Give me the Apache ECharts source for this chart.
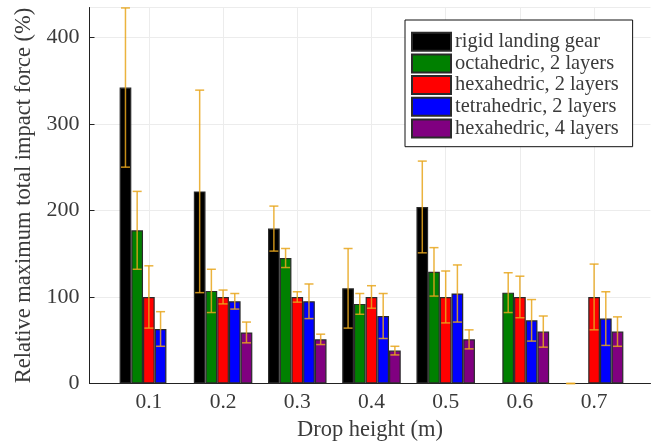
<!DOCTYPE html>
<html>
<head>
<meta charset="utf-8">
<script src="https://cdn.jsdelivr.net/npm/echarts@6/dist/echarts.min.js"></script>
<style>html,body{margin:0;padding:0;background:#fff}#c{width:655px;height:445px}</style>
</head>
<body>
<div id="c"></div>
<script>
// Drop heights (m) and their tick labels
const heights = [0.1, 0.2, 0.3, 0.4, 0.5, 0.6, 0.7];
const heightLabels = ['0.1', '0.2', '0.3', '0.4', '0.5', '0.6', '0.7'];
const yTicks = [0, 100, 200, 300, 400];

const seriesNames = ['rigid landing gear', 'octahedric, 2 layers', 'hexahedric, 2 layers', 'tetrahedric, 2 layers', 'hexahedric, 4 layers'];
const seriesColors = ['#000000', '#008000', '#ff0000', '#0000ff', '#800080'];

// mean values (%), null = not measured
const rigid       = [342, 222, 179, 110, 204, null, 0];
const octa2       = [177, 107, 145, 92, 129, 105, null];
const hexa2       = [100, 100, 100, 100, 100, 100, 100];
const tetra2      = [63, 95, 95, 78, 104, 73, 75];
const hexa4       = [null, 59, 51, 38, 51, 60, 60];

// error (half-range, %)
const rigidErr    = [92, 117, 26, 46, 53, null, 0];
const octa2Err    = [45, 25, 11, 12, 28, 23, null];
const hexa2Err    = [36, 8, 6, 13, 30, 24, 38];
const tetra2Err   = [20, 9, 20, 26, 33, 24, 31];
const hexa4Err    = [null, 12, 6, 5, 11, 18, 17];

const values = [rigid, octa2, hexa2, tetra2, hexa4];
const errors = [rigidErr, octa2Err, hexa2Err, tetra2Err, hexa4Err];

const BAR_W = 11.7;
const FONT = 'Liberation Serif';
const TXT = '#3a3a3a';

const series = [];
values.forEach((vals, i) => {
  series.push({
    name: seriesNames[i],
    type: 'bar',
    barWidth: BAR_W,
    barGap: '0%',
    itemStyle: { color: seriesColors[i], borderColor: '#2a2a2a', borderWidth: 1.2 },
    data: heights.map((h, k) => vals[k] == null ? [h, null] : [h, vals[k]]),
    z: 2
  });
});
values.forEach((vals, i) => {
  const data = [];
  heights.forEach((h, k) => {
    if (vals[k] != null && errors[i][k] != null) data.push([h, vals[k], errors[i][k]]);
  });
  const offset = (i - 2) * BAR_W;
  series.push({
    type: 'custom',
    name: seriesNames[i] + ' err',
    silent: true,
    z: 5,
    data: data,
    renderItem: function (params, api) {
      const x = api.value(0), y = api.value(1), e = api.value(2);
      const pTop = api.coord([x, y + e]);
      const pBot = api.coord([x, y - e]);
      const cx = pTop[0] + offset;
      const cap = 4.5;
      const style = { stroke: 'rgba(232,166,28,0.85)', lineWidth: 1.5 };
      return {
        type: 'group',
        children: [
          { type: 'line', shape: { x1: cx, y1: pTop[1], x2: cx, y2: pBot[1] }, style: style },
          { type: 'line', shape: { x1: cx - cap, y1: pTop[1], x2: cx + cap, y2: pTop[1] }, style: style },
          { type: 'line', shape: { x1: cx - cap, y1: pBot[1], x2: cx + cap, y2: pBot[1] }, style: style }
        ]
      };
    }
  });
});

const chart = echarts.init(document.getElementById('c'), null, { renderer: 'canvas' });
chart.setOption({
  animation: false,
  backgroundColor: '#fff',
  textStyle: { fontFamily: FONT },
  grid: { left: 89.5, right: 4.5, top: 7.5, bottom: 61.5, containLabel: false, outerBoundsMode: 'none' },
  legend: {
    data: seriesNames,
    orient: 'vertical',
    left: 405,
    top: 20,
    itemWidth: 39,
    itemHeight: 18,
    itemGap: 0.05,
    padding: [11, 14, 7.5, 6],
    backgroundColor: '#fff',
    borderColor: '#111',
    borderWidth: 1,
    icon: 'rect',
    textStyle: { fontFamily: FONT, fontSize: 20.4, lineHeight: 21.6, color: TXT, padding: [0, 0, 0, -1] }
  },
  xAxis: {
    type: 'value',
    min: 0.02,
    max: 0.776,
    name: 'Drop height (m)',
    nameLocation: 'middle',
    nameGap: 35,
    nameTextStyle: { fontFamily: FONT, fontSize: 22.5, color: TXT },
    axisLine: { show: true, lineStyle: { color: '#222', width: 1 } },
    axisTick: { show: false, customValues: heights },
    axisLabel: {
      customValues: heights,
      formatter: function (v) { const k = heights.findIndex(h => Math.abs(h - v) < 1e-9); return k >= 0 ? heightLabels[k] : ''; },
      fontFamily: FONT, fontSize: 21.5, color: TXT, margin: 8
    },
    splitLine: { show: true, lineStyle: { color: '#ececec', width: 1 } }
  },
  yAxis: {
    type: 'value',
    min: 0,
    max: 434.5,
    interval: 100,
    name: 'Relative maximum total impact force (%)',
    nameLocation: 'middle',
    nameGap: 54,
    nameTextStyle: { fontFamily: FONT, fontSize: 22.5, color: TXT },
    axisLine: { show: true, lineStyle: { color: '#222', width: 1 } },
    axisTick: { show: true, inside: true, length: 5, lineStyle: { color: '#222' } },
    axisLabel: {
      fontFamily: FONT, fontSize: 22, color: TXT, margin: 10,
      showMaxLabel: false,
      formatter: function (v) { return yTicks.indexOf(v) >= 0 ? String(v) : ''; }
    },
    splitLine: { show: true, lineStyle: { color: '#ececec', width: 1 } }
  },
  series: series
});
</script>
</body>
</html>
